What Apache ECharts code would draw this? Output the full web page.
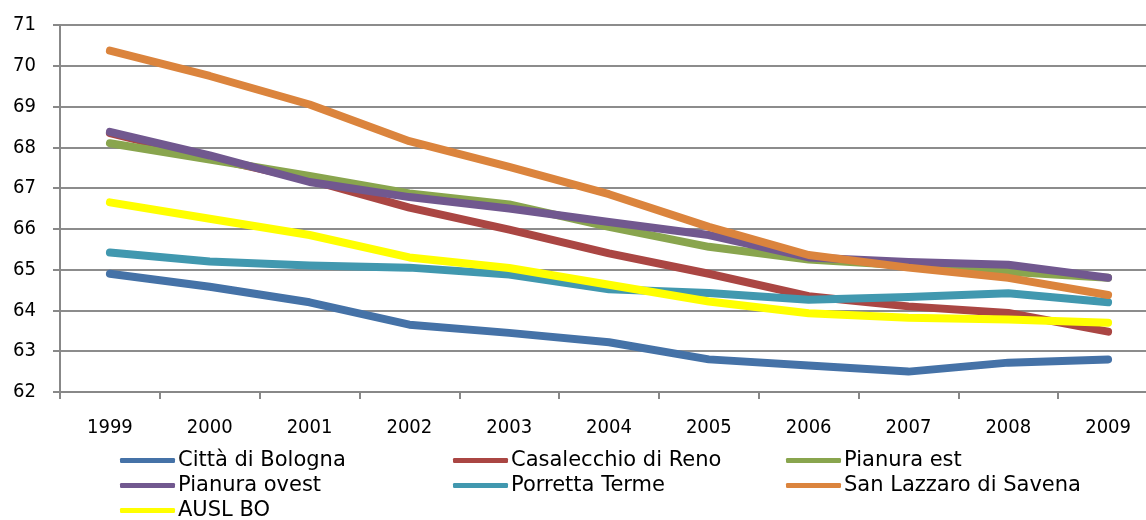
<!DOCTYPE html>
<html>
<head>
<meta charset="utf-8">
<script src="https://cdn.jsdelivr.net/npm/echarts@6/dist/echarts.min.js"></script>
<style>
  html, body { margin: 0; padding: 0; background: #fff; overflow: hidden; }
  #chart { width: 1158px; height: 520px; }
</style>
</head>
<body>
<div id="chart"></div>
<script>
var years = ['1999', '2000', '2001', '2002', '2003', '2004', '2005', '2006', '2007', '2008', '2009'];

var cittaBologna = [64.9, 64.58, 64.2, 63.65, 63.45, 63.22, 62.8, 62.65, 62.5, 62.72, 62.8];
var casalecchio = [68.35, 67.75, 67.2, 66.52, 65.98, 65.4, 64.9, 64.35, 64.1, 63.94, 63.48];
var pianuraEst = [68.1, 67.7, 67.3, 66.87, 66.6, 66.05, 65.56, 65.25, 65.1, 64.95, 64.8];
var pianuraOvest = [68.38, 67.8, 67.15, 66.78, 66.5, 66.17, 65.85, 65.3, 65.19, 65.12, 64.8];
var porretta = [65.42, 65.2, 65.1, 65.05, 64.88, 64.52, 64.43, 64.26, 64.33, 64.42, 64.2];
var sanLazzaro = [70.37, 69.75, 69.05, 68.15, 67.52, 66.85, 66.05, 65.36, 65.05, 64.8, 64.38];
var auslBo = [66.65, 66.25, 65.85, 65.3, 65.04, 64.63, 64.22, 63.93, 63.82, 63.78, 63.7];

var seriesNames = ['Città di Bologna', 'Casalecchio di Reno', 'Pianura est', 'Pianura ovest',
    'Porretta Terme', 'San Lazzaro di Savena', 'AUSL BO'];
var seriesData = [cittaBologna, casalecchio, pianuraEst, pianuraOvest, porretta, sanLazzaro, auslBo];
var colors = ['#4572A7', '#AA4643', '#89A54E', '#71588F', '#4198AF', '#DB843D', '#FFFF00'];

var axisFont = "'DejaVu Sans Condensed', 'DejaVu Sans', sans-serif";
var legendFont = "'DejaVu Sans', sans-serif";

var chart = echarts.init(document.getElementById('chart'));

var series = seriesNames.map(function (name, i) {
    return {
        name: name,
        type: 'line',
        data: seriesData[i],
        symbol: 'none',
        lineStyle: { width: 8, color: colors[i], cap: 'round', join: 'round' },
        itemStyle: { color: colors[i] }
    };
});

var option = {
    animation: false,
    backgroundColor: '#ffffff',
    color: colors,
    grid: { left: 60, top: 25, right: 0, bottom: 128 },
    legend: {
        left: 120,
        top: 448,
        width: 1000,
        itemWidth: 55,
        itemHeight: 5,
        itemGap: 0,
        padding: 0,
        icon: 'roundRect',
        data: seriesNames,
        textStyle: {
            fontFamily: legendFont,
            fontSize: 21,
            color: '#000',
            width: 275,
            lineHeight: 25,
            padding: [0, 0, 0, -2]
        }
    },
    xAxis: {
        type: 'category',
        data: years,
        boundaryGap: true,
        axisLine: { lineStyle: { color: '#888', width: 2 } },
        axisTick: { show: true, interval: 0, length: 7, lineStyle: { color: '#888', width: 2 } },
        axisLabel: { interval: 0, margin: 26, fontFamily: axisFont, fontSize: 20, color: '#000' },
        splitLine: { show: false }
    },
    yAxis: {
        type: 'value',
        min: 62,
        max: 71,
        interval: 1,
        axisLine: { show: true, lineStyle: { color: '#888', width: 2 } },
        axisTick: { show: true, length: 7, lineStyle: { color: '#888', width: 2 } },
        axisLabel: { margin: 24, fontFamily: axisFont, fontSize: 20, color: '#000' },
        splitLine: { show: true, lineStyle: { color: '#8c8c8c', width: 2 } }
    },
    series: series
};

chart.setOption(option);
</script>
</body>
</html>
